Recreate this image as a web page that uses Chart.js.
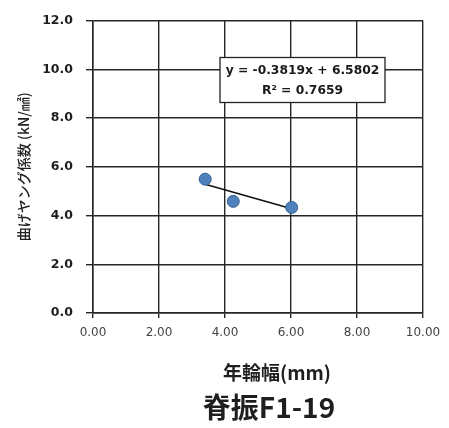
<!DOCTYPE html>
<html>
<head>
<meta charset="utf-8">
<script src="https://cdn.jsdelivr.net/npm/chart.js@4/dist/chart.umd.min.js"></script>
<style>
  html, body { margin: 0; padding: 0; background: #fff; }
  #wrap { width: 449px; height: 428px; }
</style>
</head>
<body>
<div id="wrap"><canvas id="c"></canvas></div>
<script>
// 年輪幅 vs 曲げヤング係数 (脊振F1-19)
const ringWidth = [3.4, 4.25, 6.02];
const youngModulus = [5.49, 4.58, 4.33];

// Excel linear trendline, as printed in the label
const trendSlope = -0.3819;
const trendIntercept = 6.5802;
const trendR2 = 0.7659;

const xTicks = [0, 2, 4, 6, 8, 10];
const yTicks = [0, 2, 4, 6, 8, 10, 12];

const chartTitle = '脊振F1-19';
const xTitle = '年輪幅(mm)';
const yTitle = '曲げヤング係数 (kN/㎟)';

const CJK = '"Noto Sans CJK JP", "Noto Sans", sans-serif';
const GRID = '#262626';

const points = ringWidth.map((x, i) => ({ x, y: youngModulus[i] }));
const xMin = Math.min(...ringWidth);
const xMax = Math.max(...ringWidth);
const trendLine = [xMin, xMax].map(x => ({ x, y: trendSlope * x + trendIntercept }));

const eqText = 'y = ' + trendSlope.toFixed(4) + 'x + ' + trendIntercept.toFixed(4);
const r2Text = 'R² = ' + trendR2.toFixed(4);

// equation box + captions under the plot
const captions = {
    id: 'captions',
    afterDraw(chart) {
        const ctx = chart.ctx;
        const ca = chart.chartArea;
        ctx.save();

        const bx = ca.left + 127, by = ca.top + 37, bw = 165, bh = 45;
        ctx.fillStyle = '#fff';
        ctx.fillRect(bx, by, bw, bh);
        ctx.strokeStyle = '#222';
        ctx.lineWidth = 1.3;
        ctx.strokeRect(bx, by, bw, bh);

        ctx.fillStyle = '#1a1a1a';
        ctx.textAlign = 'center';
        ctx.textBaseline = 'middle';
        ctx.font = 'bold 12.3px "DejaVu Sans", sans-serif';
        ctx.fillText(eqText, bx + bw / 2, by + 13.5);
        ctx.fillText(r2Text, bx + bw / 2, by + 33);

        ctx.fillStyle = '#1e1e1e';
        ctx.font = 'bold 19px ' + CJK;
        ctx.fillText(xTitle, 277, 373);
        ctx.font = 'bold 28px ' + CJK;
        ctx.fillText(chartTitle, 269, 407);
        ctx.restore();
    }
};

new Chart(document.getElementById('c'), {
    type: 'scatter',
    data: {
        datasets: [
            {
                type: 'line',
                data: trendLine,
                borderColor: '#111',
                borderWidth: 1.6,
                pointRadius: 0,
                fill: false,
                order: 2
            },
            {
                data: points,
                backgroundColor: '#4f81bd',
                borderColor: '#35608f',
                borderWidth: 1,
                pointRadius: 6,
                order: 1
            }
        ]
    },
    options: {
        responsive: true,
        maintainAspectRatio: false,
        animation: false,
        layout: { padding: { top: 15, right: 26, left: 0, bottom: 0 } },
        plugins: {
            legend: { display: false },
            tooltip: { enabled: false }
        },
        scales: {
            x: {
                type: 'linear',
                min: 0,
                max: 10,
                afterBuildTicks: s => { s.ticks = xTicks.map(v => ({ value: v })); },
                afterFit: s => { s.height = 115; },
                ticks: {
                    padding: 8,
                    color: '#444',
                    font: { family: '"DejaVu Sans", sans-serif', size: 12 },
                    callback: v => Number(v).toFixed(2)
                },
                grid: { color: GRID, lineWidth: 1.4, tickLength: 5 },
                border: { color: GRID, width: 1.5 }
            },
            y: {
                type: 'linear',
                min: 0,
                max: 12,
                afterBuildTicks: s => { s.ticks = yTicks.map(v => ({ value: v })); },
                afterFit: s => { s.width = 93; },
                ticks: {
                    padding: 13,
                    color: '#1e1e1e',
                    font: { family: '"DejaVu Sans", sans-serif', size: 12.5, weight: 'bold' },
                    callback: v => Number(v).toFixed(1)
                },
                grid: { color: GRID, lineWidth: 1.4, tickLength: 7 },
                border: { color: GRID, width: 1.5 },
                title: {
                    display: true,
                    text: yTitle,
                    color: '#222',
                    font: { family: CJK, size: 14, weight: '500' },
                    padding: { top: 15, bottom: 0 }
                }
            }
        }
    },
    plugins: [captions]
});
</script>
</body>
</html>
